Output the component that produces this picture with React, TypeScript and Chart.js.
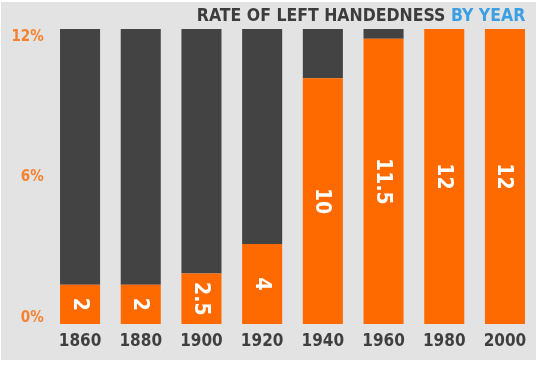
import React, { useEffect, useRef } from "react";
import { Chart, registerables } from "chart.js";

Chart.register(...registerables);

const years = ["1860", "1880", "1900", "1920", "1940", "1960", "1980", "2000"];
// drawn heights of the orange (left-handed) segments
const leftHanded = [1.6, 1.6, 2.05, 3.25, 10, 11.6, 12, 12];
// drawn heights of the dark remainder segments
const remainder = [10.4, 10.4, 9.95, 8.75, 2, 0.4, 0, 0];
// text printed inside the bars
const valueLabels = ["2", "2", "2.5", "4", "10", "11.5", "12", "12"];
const yTickValues = [0, 6, 12];
const titleMain = "RATE OF LEFT HANDEDNESS ";
const titleAccent = "BY YEAR";

const FONT = "'DejaVu Sans Condensed', 'DejaVu Sans', sans-serif";
const ORANGE = "#ff6a00";
const DARK = "#434343";
const BG = "#e3e3e3";

const bgPlugin = {
  id: "bgPanel",
  beforeDraw(chart: any) {
    const { ctx, width, height } = chart;
    ctx.save();
    ctx.fillStyle = "#ffffff";
    ctx.fillRect(0, 0, width, height);
    ctx.fillStyle = BG;
    ctx.fillRect(1, 2, 535, 358);
    ctx.restore();
  },
};

const titlePlugin = {
  id: "twoColorTitle",
  afterDraw(chart: any) {
    const { ctx, chartArea } = chart;
    ctx.save();
    ctx.font = `bold 17.5px ${FONT}`;
    ctx.textBaseline = "alphabetic";
    ctx.textAlign = "left";
    const wAccent = ctx.measureText(titleAccent).width;
    const wMain = ctx.measureText(titleMain).width;
    const right = chartArea.right - 10;
    const y = 21;
    ctx.fillStyle = "#3c3c3c";
    ctx.fillText(titleMain, right - wAccent - wMain, y);
    ctx.fillStyle = "#3a9fe3";
    ctx.fillText(titleAccent, right - wAccent, y);
    ctx.restore();
  },
};

const valueLabelPlugin = {
  id: "rotatedValueLabels",
  afterDatasetsDraw(chart: any) {
    const { ctx } = chart;
    const meta = chart.getDatasetMeta(0);
    ctx.save();
    ctx.font = `bold 21px ${FONT}`;
    ctx.fillStyle = "#ffffff";
    ctx.textAlign = "center";
    ctx.textBaseline = "middle";
    meta.data.forEach((bar: any, i: number) => {
      const cx = bar.x;
      const cy = (bar.y + bar.base) / 2;
      ctx.save();
      ctx.translate(cx, cy);
      ctx.rotate(Math.PI / 2);
      ctx.fillText(valueLabels[i], 0, 1);
      ctx.restore();
    });
    ctx.restore();
  },
};

export default function App() {
  const ref = useRef<HTMLCanvasElement | null>(null);

  useEffect(() => {
    if (!ref.current) return;
    const chart = new Chart(ref.current, {
      type: "bar",
      data: {
        labels: years,
        datasets: [
          {
            label: "Left-handed",
            data: leftHanded,
            backgroundColor: ORANGE,
            borderWidth: 0,
            yAxisID: "y",
          },
          {
            label: "Other",
            data: remainder,
            backgroundColor: DARK,
            borderWidth: 0,
            yAxisID: "y",
          },
        ],
      },
      options: {
        animation: false,
        responsive: false,
        devicePixelRatio: 1,
        layout: { padding: { top: 29, right: 4.7, bottom: 0, left: 0 } },
        datasets: {
          bar: { categoryPercentage: 1, barPercentage: 0.66 },
        },
        plugins: {
          legend: { display: false },
          title: { display: false },
          tooltip: { enabled: false },
        },
        scales: {
          x: {
            stacked: true,
            grid: { display: false, drawTicks: false },
            border: { display: false },
            ticks: {
              color: "#3f3f3f",
              font: { family: FONT, size: 17, weight: "bold" },
              padding: 7,
              maxRotation: 0,
            },
            afterFit(scale: any) {
              scale.height = 42;
            },
          },
          y: {
            stacked: true,
            display: false,
            min: 0,
            max: 12,
          },
          yl: {
            position: "left",
            min: -0.256,
            max: 12.342,
            grid: { display: false, drawTicks: false },
            border: { display: false },
            afterBuildTicks(scale: any) {
              scale.ticks = yTickValues.map((v) => ({ value: v }));
            },
            ticks: {
              color: "#f5822e",
              font: { family: FONT, size: 15, weight: "bold" },
              padding: 6,
              callback: (v: any) => `${v}%`,
            },
            afterFit(scale: any) {
              scale.width = 49.7;
            },
          },
        },
      } as any,
      plugins: [bgPlugin, titlePlugin, valueLabelPlugin],
    });
    return () => chart.destroy();
  }, []);

  return (
    <div style={{ position: "absolute", left: 0, top: 0, width: 540, height: 366, background: "#fff" }}>
      <canvas ref={ref} width={540} height={366} style={{ display: "block" }} />
    </div>
  );
}
